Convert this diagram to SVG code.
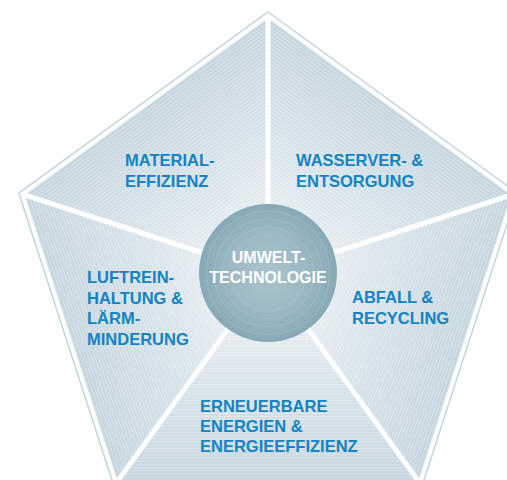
<svg xmlns="http://www.w3.org/2000/svg" width="507" height="480" viewBox="0 0 507 480">
  <defs>
    <linearGradient id="segGrad" gradientUnits="userSpaceOnUse" x1="268" y1="481" x2="268" y2="274">
      <stop offset="0" stop-color="#c6d6df"/>
      <stop offset="0.55" stop-color="#dce6ec"/>
      <stop offset="1" stop-color="#f4f7f9"/>
    </linearGradient>
    <pattern id="stripes" patternUnits="userSpaceOnUse" width="8" height="3.2">
      <rect x="0" y="0" width="8" height="0.8" fill="#ffffff" opacity="0.35"/>
    </pattern>
    <radialGradient id="circGrad" cx="268" cy="273" r="69" gradientUnits="userSpaceOnUse">
      <stop offset="0" stop-color="#a9c3cb"/>
      <stop offset="0.55" stop-color="#9db9c3"/>
      <stop offset="1" stop-color="#87a9b5"/>
    </radialGradient>
  </defs>
  <style>
    .seg { fill: url(#segGrad); }
    .str { fill: url(#stripes); }
    .lbl { font-family: "Liberation Sans", Arial, sans-serif; font-weight: bold; font-size: 16.5px; fill: #1383c5; }
    .ctr { font-family: "Liberation Sans", Arial, sans-serif; font-weight: bold; font-size: 16px; fill: #ffffff; text-anchor: middle; }
    .div { stroke: #ffffff; stroke-width: 5; stroke-linecap: butt; }
  </style>

  <polygon points="268,12 517.18,193.04 422,485.96 114,485.96 18.82,193.04" fill="none" stroke="#c3d4de" stroke-width="1.5"/>

  <g id="seg-bottom">
    <polygon class="seg" points="268,274 117.53,481.11 418.47,481.11"/>
    <polygon class="str" points="268,274 117.53,481.11 418.47,481.11"/>
  </g>
  <g id="seg-left" transform="rotate(72 268 274)">
    <polygon class="seg" points="268,274 117.53,481.11 418.47,481.11"/>
    <polygon class="str" points="268,274 117.53,481.11 418.47,481.11"/>
  </g>
  <g id="seg-topleft" transform="rotate(144 268 274)">
    <polygon class="seg" points="268,274 117.53,481.11 418.47,481.11"/>
    <polygon class="str" points="268,274 117.53,481.11 418.47,481.11"/>
  </g>
  <g id="seg-topright" transform="rotate(216 268 274)">
    <polygon class="seg" points="268,274 117.53,481.11 418.47,481.11"/>
    <polygon class="str" points="268,274 117.53,481.11 418.47,481.11"/>
  </g>
  <g id="seg-right" transform="rotate(288 268 274)">
    <polygon class="seg" points="268,274 117.53,481.11 418.47,481.11"/>
    <polygon class="str" points="268,274 117.53,481.11 418.47,481.11"/>
  </g>

  <g id="dividers">
    <line class="div" x1="268" y1="274" x2="268" y2="18"/>
    <line class="div" x1="268" y1="274" x2="511.47" y2="194.89"/>
    <line class="div" x1="268" y1="274" x2="418.47" y2="481.11"/>
    <line class="div" x1="268" y1="274" x2="117.53" y2="481.11"/>
    <line class="div" x1="268" y1="274" x2="24.53" y2="194.89"/>
  </g>

  <g id="center">
    <circle cx="268" cy="273" r="69" fill="url(#circGrad)"/>
    <g fill="none" stroke="#b4cbd3" stroke-width="0.6" opacity="0.6">
      <circle cx="268" cy="273" r="62"/>
      <circle cx="268" cy="273" r="54"/>
      <circle cx="268" cy="273" r="46"/>
      <circle cx="268" cy="273" r="38"/>
    </g>
    <text class="ctr" x="268.5" y="263">UMWELT-</text>
    <text class="ctr" x="268" y="283">TECHNOLOGIE</text>
  </g>

  <g id="label-material">
    <text class="lbl" x="125" y="166">MATERIAL-</text>
    <text class="lbl" x="125" y="187">EFFIZIENZ</text>
  </g>
  <g id="label-wasser">
    <text class="lbl" x="296" y="166">WASSERVER- &amp;</text>
    <text class="lbl" x="296" y="187">ENTSORGUNG</text>
  </g>
  <g id="label-luft">
    <text class="lbl" x="87" y="283">LUFTREIN-</text>
    <text class="lbl" x="87" y="303.5">HALTUNG &amp;</text>
    <text class="lbl" x="87" y="324">LÄRM-</text>
    <text class="lbl" x="87" y="344.5">MINDERUNG</text>
  </g>
  <g id="label-abfall">
    <text class="lbl" x="352" y="303">ABFALL &amp;</text>
    <text class="lbl" x="352" y="323.5">RECYCLING</text>
  </g>
  <g id="label-energie">
    <text class="lbl" x="200" y="412">ERNEUERBARE</text>
    <text class="lbl" x="200" y="432">ENERGIEN &amp;</text>
    <text class="lbl" x="200" y="452">ENERGIEEFFIZIENZ</text>
  </g>
</svg>
